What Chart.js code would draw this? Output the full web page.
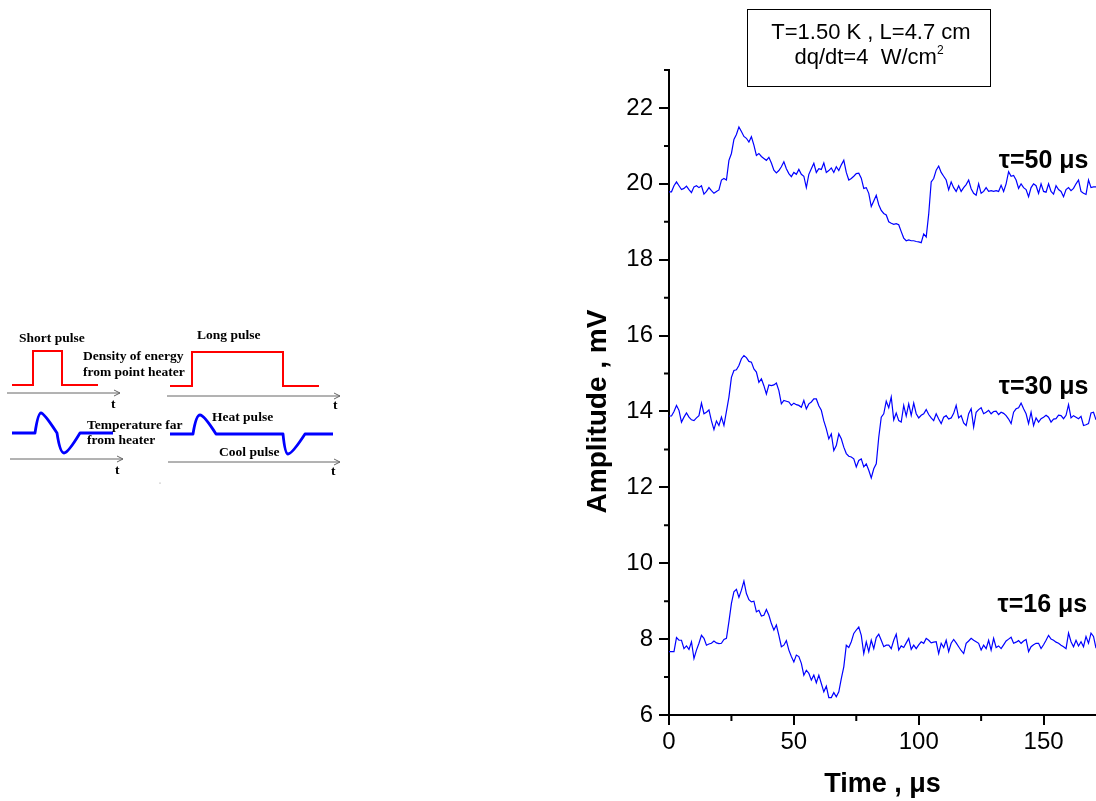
<!DOCTYPE html>
<html>
<head>
<meta charset="utf-8">
<script src="https://cdn.jsdelivr.net/npm/chart.js@4.4.1/dist/chart.umd.min.js"></script>
<style>
  html, body { margin: 0; padding: 0; background: #fff; }
  #wrap { position: relative; width: 1096px; height: 801px; overflow: hidden; }
  #c { position: absolute; left: 0; top: 0; }
  #info { position: absolute; left: 747px; top: 9px; width: 242px; height: 76px; border: 1px solid #000;
          font-family: "Liberation Sans", Arial, sans-serif; font-size: 22px; color: #000; text-align: center;
          line-height: 25px; box-sizing: content-box; padding-top: 0; }
  #info .l1 { margin-top: 9px; padding-left: 4px; }
  #info sup { font-size: 12px; vertical-align: 10px; line-height: 0; }
  #schema { position: absolute; left: 0; top: 0; }
  #schema text { font-family: "Liberation Serif", "Times New Roman", serif; font-weight: bold; font-size: 13.5px; fill: #000; }
</style>
</head>
<body>
<div id="wrap">
  <canvas id="c" width="1096" height="801"></canvas>
  <svg id="schema" width="360" height="801" xmlns="http://www.w3.org/2000/svg">
    <g fill="none" stroke="#ff0000" stroke-width="2">
      <polyline points="12,385 33,385 33,351 62,351 62,385 98,385"/>
      <polyline points="170,386 192,386 192,352 283,352 283,386 319,386"/>
    </g>
    <g fill="none" stroke="#0000ff" stroke-width="2.8" stroke-linejoin="round">
      <path d="M12 433 L35 433 Q38 413 41 413 Q44 413 57 433 Q60 453 64 453 Q68 453 80 433 L113 433"/>
      <path d="M170 434 L193 434 Q196 415 200 415 Q204 415 216 434 L283 434 Q285 454 288 454 Q292 454 305 434 L333 434"/>
    </g>
    <g fill="none" stroke="#666" stroke-width="1">
      <path d="M7 393 L120 393 M114 390 L120 393 L114 396"/>
      <path d="M167 396 L340 396 M334 393 L340 396 L334 399"/>
      <path d="M10 459 L123 459 M117 456 L123 459 L117 462"/>
      <path d="M168 462 L340 462 M334 459 L340 462 L334 465"/>
    </g>
    <text x="19" y="342">Short pulse</text>
    <text x="197" y="339">Long pulse</text>
    <text x="83" y="360">Density of energy</text>
    <text x="83" y="376">from point heater</text>
    <text x="111" y="408">t</text>
    <text x="333" y="409">t</text>
    <text x="87" y="429">Temperature far</text>
    <text x="87" y="444">from heater</text>
    <text x="212" y="421">Heat pulse</text>
    <text x="219" y="456">Cool pulse</text>
    <text x="115" y="474">t</text>
    <text x="331" y="475">t</text>
    <circle cx="160" cy="483" r="0.6" fill="#888"/>
  </svg>
  <div id="info"><div class="l1">T=1.50 K , L=4.7 cm</div><div>dq/dt=4&nbsp; W/cm<sup>2</sup></div></div>
</div>
<script>
// ---- data ----
const time = [0,1,2,3,4,5,6,7,8,9,10,11,12,13,14,15,16,17,18,19,20,21,22,23,24,25,26,27,28,29,30,31,32,33,34,35,36,37,38,39,40,41,42,43,44,45,46,47,48,49,50,51,52,53,54,55,56,57,58,59,60,61,62,63,64,65,66,67,68,69,70,71,72,73,74,75,76,77,78,79,80,81,82,83,84,85,86,87,88,89,90,91,92,93,94,95,96,97,98,99,100,101,102,103,104,105,106,107,108,109,110,111,112,113,114,115,116,117,118,119,120,121,122,123,124,125,126,127,128,129,130,131,132,133,134,135,136,137,138,139,140,141,142,143,144,145,146,147,148,149,150,151,152,153,154,155,156,157,158,159,160,161,162,163,164,165,166,167,168,169,170,171];

const tau50 = [19.79,19.79,19.95,20.05,19.95,19.85,19.88,19.94,19.85,19.77,19.92,19.95,19.9,19.95,19.73,19.8,19.9,19.82,19.75,19.8,
  19.84,20.1,20.14,20.1,20.62,20.8,21.17,21.3,21.5,21.38,21.25,21.2,21.1,21.24,21.02,20.75,20.8,20.72,20.67,20.62,
  20.7,20.55,20.36,20.29,20.35,20.45,20.58,20.4,20.27,20.19,20.3,20.25,20.38,20.25,20.2,19.9,20.25,20.4,20.54,20.3,
  20.4,20.38,20.55,20.3,20.35,20.42,20.3,20.45,20.35,20.5,20.62,20.3,20.1,20.14,20.2,20.27,20.28,20.15,19.88,19.9,
  19.75,19.4,19.55,19.7,19.45,19.3,19.22,19.18,19.0,18.96,18.93,18.95,18.92,18.74,18.57,18.5,18.52,18.5,18.5,18.48,
  18.47,18.45,18.68,18.6,19.2,20.05,20.14,20.36,20.47,20.3,20.2,20.1,19.84,20.05,19.9,19.8,19.95,19.8,19.9,19.98,
  20.1,19.87,19.75,19.7,20.0,19.75,19.8,19.9,19.8,19.82,19.8,19.82,19.8,19.96,19.8,20.0,20.32,20.2,20.22,20.1,
  19.88,20.0,19.9,19.85,19.66,19.9,20.0,19.95,19.75,20.0,19.8,19.78,20.0,19.8,19.73,19.95,19.85,19.8,19.66,19.85,
  19.9,19.82,19.88,20.0,20.1,19.8,19.75,19.72,20.1,19.9,19.92,19.92];

const tau30 = [13.88,13.88,14.0,14.16,14.03,13.72,13.85,13.96,13.85,13.78,13.76,13.83,13.89,14.22,13.94,13.98,14.04,13.75,13.52,13.75,
  13.63,13.85,13.63,14.0,14.38,14.9,15.08,15.1,15.21,15.39,15.47,15.42,15.32,15.3,15.12,15.04,14.77,14.86,14.68,14.46,
  14.7,14.68,14.7,14.75,14.55,14.2,14.29,14.27,14.25,14.16,14.22,14.18,14.16,14.11,14.29,14.07,14.2,14.25,14.33,14.33,
  14.15,14.03,13.75,13.54,13.28,13.41,12.97,13.1,13.41,13.28,13.06,12.89,12.82,12.8,12.75,12.54,12.71,12.75,12.54,12.62,
  12.45,12.25,12.49,12.62,13.32,13.85,13.94,14.27,14.1,14.38,13.78,13.96,13.76,13.72,14.16,13.88,14.2,13.9,14.22,13.94,
  13.83,13.9,13.94,14.05,13.92,13.83,13.76,13.94,13.8,13.68,13.85,13.89,13.8,13.83,13.95,14.16,13.83,13.89,13.7,13.63,
  13.94,14.07,13.59,13.98,14.05,14.1,13.94,13.98,14.03,13.94,14.0,14.01,13.92,13.98,13.95,13.89,13.8,13.68,13.98,14.07,
  14.1,14.22,14.07,13.94,13.68,13.98,13.63,13.83,13.72,13.81,13.85,13.9,13.85,13.72,13.8,13.81,13.9,13.89,13.81,13.9,
  14.18,13.83,13.89,13.85,13.81,13.87,13.63,13.65,13.68,13.96,13.98,13.78];

const tau16 = [7.67,7.67,7.67,8.04,7.97,7.97,7.75,7.82,7.73,7.93,7.49,7.71,7.89,8.1,8.02,7.84,7.87,7.89,7.95,7.9,
  7.88,7.89,7.99,8.02,8.46,8.94,9.25,9.31,9.1,9.29,9.53,9.2,9.04,8.98,9.0,8.72,8.76,8.61,8.63,8.78,
  8.63,8.41,8.24,8.37,8.1,7.8,7.84,7.96,7.71,7.54,7.4,7.58,7.54,7.36,7.05,7.18,7.1,6.92,7.05,6.85,
  7.05,6.83,6.61,6.76,6.46,6.46,6.59,6.48,6.61,6.96,7.27,7.84,7.78,7.93,8.15,8.24,8.32,8.1,7.62,7.93,
  7.67,7.97,7.75,8.04,8.13,7.97,7.8,7.84,7.84,7.75,7.97,8.13,7.71,7.82,7.78,7.9,8.02,7.73,7.84,7.75,
  7.85,7.93,7.89,8.02,7.97,7.9,7.92,7.93,7.62,7.89,7.78,7.97,7.67,7.89,7.99,7.9,7.8,7.7,7.62,7.89,
  7.95,8.02,7.97,7.93,7.89,7.71,7.84,7.75,7.97,7.71,8.02,7.78,7.82,7.75,7.85,7.95,8.0,8.05,7.89,7.92,
  7.96,7.89,7.95,7.99,7.67,7.8,7.85,7.89,7.89,7.75,7.85,7.97,8.1,8.0,7.97,7.92,7.89,7.84,7.8,7.75,
  8.16,7.93,7.8,7.97,7.82,7.93,7.8,8.07,7.89,8.16,8.07,7.76];

const seriesNames = ['τ=50 μs', 'τ=30 μs', 'τ=16 μs'];
const seriesValues = [tau50, tau30, tau16];
const labelX = [168, 168, 167.5];
const labelY = [20.42, 14.47, 8.71];

const xMajorTicks = [0, 50, 100, 150];
const xMinorTicks = [25, 75, 125];
const yMajorTicks = [6, 8, 10, 12, 14, 16, 18, 20, 22];
const yMinorTicks = [7, 9, 11, 13, 15, 17, 19, 21, 23];
const yTitle = 'Amplitude , mV';
const xTitle = 'Time , μs';

// ---- chart ----
const FONT = '"Liberation Sans", Arial, Helvetica, sans-serif';

const extras = {
  id: 'extras',
  afterDraw(chart) {
    const ctx = chart.ctx, xs = chart.scales.x, ys = chart.scales.y, ca = chart.chartArea;
    ctx.save();
    ctx.strokeStyle = '#000';
    ctx.lineWidth = 2;
    ctx.beginPath();
    yMinorTicks.forEach(v => { const p = ys.getPixelForValue(v); ctx.moveTo(ca.left - 5, p); ctx.lineTo(ca.left, p); });
    xMinorTicks.forEach(v => { const p = xs.getPixelForValue(v); ctx.moveTo(p, ca.bottom); ctx.lineTo(p, ca.bottom + 6); });
    ctx.stroke();
    ctx.fillStyle = '#000';
    ctx.font = 'bold 25px ' + FONT;
    ctx.textAlign = 'right';
    ctx.textBaseline = 'alphabetic';
    seriesNames.forEach((n, i) => {
      ctx.fillText(n, xs.getPixelForValue(labelX[i]), ys.getPixelForValue(labelY[i]));
    });
    // y axis title (rotated), placed slightly below the axis middle as in the original
    ctx.font = 'bold 28px ' + FONT;
    ctx.textAlign = 'center';
    ctx.textBaseline = 'middle';
    ctx.translate(ys.left + 20, (ca.top + ca.bottom) / 2 + 19);
    ctx.rotate(-Math.PI / 2);
    ctx.fillText(yTitle, 0, 0);
    ctx.restore();
  }
};

new Chart(document.getElementById('c'), {
  type: 'line',
  data: {
    datasets: seriesValues.map((vals, i) => ({
      label: seriesNames[i],
      data: time.map((t, j) => ({ x: t, y: vals[j] })),
      borderColor: '#0000ff',
      borderWidth: 1.2,
      pointRadius: 0,
      tension: 0,
      fill: false
    }))
  },
  options: {
    responsive: false,
    animation: false,
    layout: { padding: { left: 578, right: 0, top: 70, bottom: 0 } },
    plugins: { legend: { display: false }, tooltip: { enabled: false } },
    scales: {
      x: {
        type: 'linear', min: 0, max: 171,
        afterBuildTicks: s => { s.ticks = xMajorTicks.map(v => ({ value: v })); },
        afterFit: s => { s.height = 86; },
        ticks: { font: { family: FONT, size: 24 }, color: '#000', padding: 3, maxRotation: 0 },
        grid: { drawOnChartArea: false, drawTicks: true, tickLength: 10, color: '#000', lineWidth: 2 },
        border: { display: true, color: '#000', width: 2 },
        title: { display: true, text: xTitle, color: '#000', font: { family: FONT, size: 27, weight: 'bold' }, padding: { top: 0, bottom: 0 } }
      },
      y: {
        type: 'linear', min: 6, max: 23,
        afterBuildTicks: s => { s.ticks = yMajorTicks.map(v => ({ value: v })); },
        afterFit: s => { s.width = 91; },
        ticks: { font: { family: FONT, size: 24 }, color: '#000', padding: 6 },
        grid: { drawOnChartArea: false, drawTicks: true, tickLength: 10, color: '#000', lineWidth: 2 },
        border: { display: true, color: '#000', width: 2 },
        title: { display: false }
      }
    }
  },
  plugins: [extras]
});
</script>
</body>
</html>
